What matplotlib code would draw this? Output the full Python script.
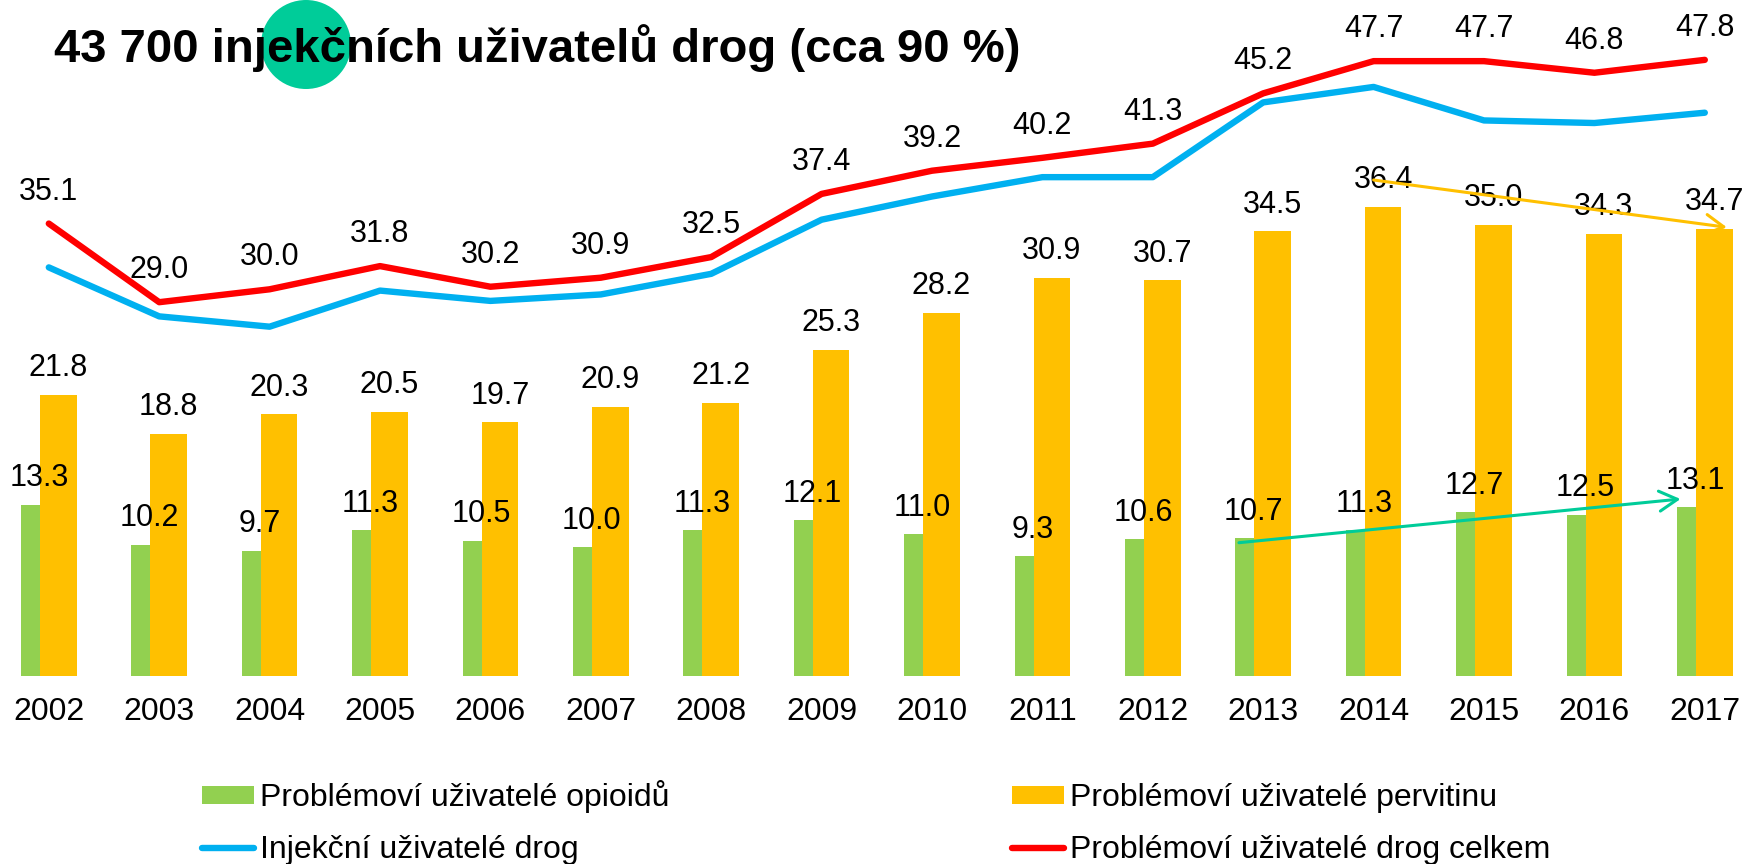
import matplotlib
matplotlib.use("Agg")
import matplotlib.pyplot as plt
from matplotlib.patches import Ellipse
from matplotlib.transforms import IdentityTransform
import numpy as np

plt.rcParams['font.family'] = ['Liberation Sans', 'DejaVu Sans']

years = ["2002", "2003", "2004", "2005", "2006", "2007", "2008", "2009",
         "2010", "2011", "2012", "2013", "2014", "2015", "2016", "2017"]
opioids = [13.3, 10.2, 9.7, 11.3, 10.5, 10.0, 11.3, 12.1,
           11.0, 9.3, 10.6, 10.7, 11.3, 12.7, 12.5, 13.1]
pervitin = [21.8, 18.8, 20.3, 20.5, 19.7, 20.9, 21.2, 25.3,
            28.2, 30.9, 30.7, 34.5, 36.4, 35.0, 34.3, 34.7]
injecting = [31.7, 27.9, 27.1, 29.9, 29.1, 29.6, 31.2, 35.4,
             37.2, 38.7, 38.7, 44.5, 45.7, 43.1, 42.9, 43.7]
total = [35.1, 29.0, 30.0, 31.8, 30.2, 30.9, 32.5, 37.4,
         39.2, 40.2, 41.3, 45.2, 47.7, 47.7, 46.8, 47.8]

title = "43 700 injekčních uživatelů drog (cca 90 %)"
labels = ["Problémoví uživatelé opioidů", "Injekční uživatelé drog",
          "Problémoví uživatelé pervitinu", "Problémoví uživatelé drog celkem"]

GREEN = "#92D050"
ORANGE = "#FFC000"
BLUE = "#00B0F0"
RED = "#FF0000"
TEAL = "#00CC99"

W, H = 1754, 864
fig = plt.figure(figsize=(W / 100, H / 100), dpi=100)

ax = fig.add_axes([0, 188 / H, 1, 676 / H])
x = np.arange(len(years))
bw = 0.33
off = 0.086

b1 = ax.bar(x - off, opioids, width=bw, color=GREEN, zorder=2,
            label=labels[0])
b2 = ax.bar(x + off, pervitin, width=bw, color=ORANGE, zorder=3,
            label=labels[2])
l1, = ax.plot(x, injecting, color=BLUE, lw=4.6, solid_capstyle='round',
              solid_joinstyle='round', zorder=4, label=labels[1])
l2, = ax.plot(x, total, color=RED, lw=4.6, solid_capstyle='round',
              solid_joinstyle='round', zorder=5, label=labels[3])

for xi, v in zip(x, opioids):
    ax.annotate(f"{v:.1f}", xy=(xi - off, v), xytext=(0, 18.5),
                textcoords='offset pixels', ha='center', va='baseline',
                fontsize=22, zorder=6, annotation_clip=False)
for xi, v in zip(x, pervitin):
    ax.annotate(f"{v:.1f}", xy=(xi + off, v), xytext=(0, 18.5),
                textcoords='offset pixels', ha='center', va='baseline',
                fontsize=22, zorder=6, annotation_clip=False)
for xi, v in zip(x, total):
    ax.annotate(f"{v:.1f}", xy=(xi, v), xytext=(0, 24),
                textcoords='offset pixels', ha='center', va='baseline',
                fontsize=22, zorder=6, annotation_clip=False)

# trend arrows
ax.annotate("", xy=(15.20, 34.81), xytext=(12.0, 38.48),
            arrowprops=dict(arrowstyle='->,head_length=0.65,head_width=0.36',
                            color=ORANGE, lw=2.2, shrinkA=0, shrinkB=0,
                            mutation_scale=20), zorder=7)
ax.annotate("", xy=(14.78, 13.73), xytext=(10.78, 10.34),
            arrowprops=dict(arrowstyle='->,head_length=0.65,head_width=0.36',
                            color=TEAL, lw=2.2, shrinkA=0, shrinkB=0,
                            mutation_scale=20), zorder=7)

ax.set_xlim((0 - 48.8) / 110.4, (W - 48.8) / 110.4)
ax.set_ylim(0, 676 / 12.89)
ax.set_xticks(x)
ax.set_xticklabels(years, fontsize=23)
ax.tick_params(axis='x', length=0, pad=15)
ax.set_yticks([])
for s in ax.spines.values():
    s.set_visible(False)
ax.patch.set_alpha(0)

# title with circle behind
fig.patches.append(Ellipse((306, H - 44.5), 90, 89, transform=IdentityTransform(),
                           facecolor=TEAL, edgecolor='none', zorder=0))
fig.text(54 / W, (H - 62) / H, title, fontsize=34, fontweight='bold',
         ha='left', va='baseline', zorder=10)

leg = fig.legend([b1, l1, b2, l2], labels, ncol=2,
                 loc='upper left', bbox_to_anchor=(201.7 / W, (H - 780) / H),
                 frameon=False, fontsize=23, borderpad=0, borderaxespad=0,
                 handlelength=1.63, handleheight=0.5, handletextpad=0.19,
                 columnspacing=10.72, labelspacing=0.70)

fig.savefig("out.png", dpi=100)
